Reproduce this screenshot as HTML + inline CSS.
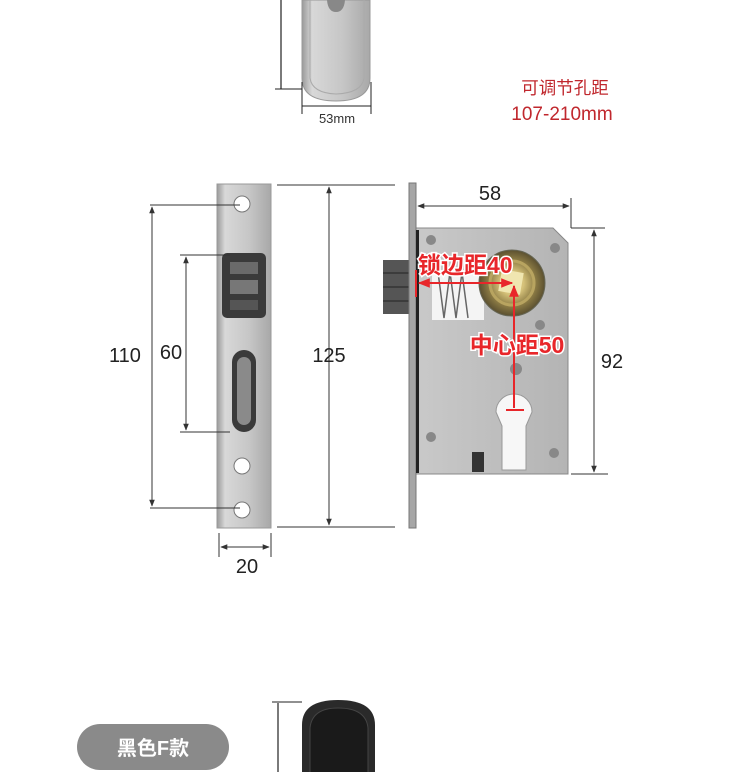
<!DOCTYPE html>
<html><head><meta charset="utf-8"><style>
html,body{margin:0;padding:0;background:#fff;}
svg{display:block}
text{font-family:"Liberation Sans","Noto Sans CJK SC",sans-serif;}
</style></head><body>
<svg width="750" height="772" viewBox="0 0 750 772" xmlns="http://www.w3.org/2000/svg">
<defs>
<linearGradient id="steel" x1="0" x2="1" y1="0" y2="0">
<stop offset="0" stop-color="#9a9a9a"/><stop offset="0.15" stop-color="#d8d8d8"/><stop offset="0.6" stop-color="#c6c6c6"/><stop offset="1" stop-color="#a8a8a8"/></linearGradient>
<linearGradient id="case" x1="0" x2="1"><stop offset="0" stop-color="#c9c9c9"/><stop offset="1" stop-color="#b4b4b4"/></linearGradient>
<radialGradient id="gold"><stop offset="0.35" stop-color="#d6c27a"/><stop offset="0.7" stop-color="#8e7d45"/><stop offset="1" stop-color="#5b5030"/></radialGradient>
<marker id="a" viewBox="0 0 10 10" refX="9" refY="5" markerWidth="7" markerHeight="7" orient="auto-start-reverse"><path d="M0,1 L10,5 L0,9z" fill="#333"/></marker>
<marker id="r" viewBox="0 0 10 10" refX="9" refY="5" markerWidth="6" markerHeight="6" orient="auto-start-reverse"><path d="M0,1 L10,5 L0,9z" fill="#e8262a"/></marker>
</defs>

<!-- top handle -->
<path d="M302,0 L370,0 L370,78 Q370,101 336,101 Q302,101 302,78 Z" fill="url(#steel)" stroke="#999"/>
<path d="M310,0 L310,78 Q312,93 336,94 Q362,93 364,78 L364,0" fill="none" stroke="#aaa"/>
<path d="M327,0 Q328,12 336,12 Q344,12 345,0" fill="#888"/>
<line x1="281" y1="0" x2="281" y2="89" stroke="#222" stroke-width="1.2"/>
<line x1="275" y1="89" x2="302" y2="89" stroke="#222"/>
<line x1="302" y1="82" x2="302" y2="114" stroke="#222"/>
<line x1="371" y1="82" x2="371" y2="114" stroke="#222"/>
<line x1="302" y1="106" x2="371" y2="106" stroke="#222"/>
<text x="337" y="123" font-size="13" text-anchor="middle" fill="#333">53mm</text>
<text x="565" y="94" font-size="17.5" text-anchor="middle" fill="#c0272d">可调节孔距</text>
<text x="562" y="120" font-size="19" text-anchor="middle" fill="#c0272d">107-210mm</text>

<!-- strike plate -->
<rect x="217" y="184" width="54" height="344" fill="url(#steel)" stroke="#999"/>
<circle cx="242" cy="204" r="8" fill="#fff" stroke="#777"/>
<circle cx="242" cy="466" r="8" fill="#fff" stroke="#777"/>
<circle cx="242" cy="510" r="8" fill="#fff" stroke="#777"/>
<rect x="222" y="253" width="44" height="65" rx="5" fill="#3a3a3a"/>
<rect x="230" y="262" width="28" height="12" fill="#6a6a6a"/>
<rect x="230" y="280" width="28" height="14" fill="#777"/>
<rect x="230" y="300" width="28" height="10" fill="#555"/>
<rect x="232" y="350" width="24" height="82" rx="12" fill="#3a3a3a"/>
<rect x="237" y="357" width="14" height="68" rx="7" fill="#8a8a8a"/>

<line x1="150" y1="205" x2="240" y2="205" stroke="#333"/>
<line x1="150" y1="508" x2="240" y2="508" stroke="#333"/>
<line x1="152" y1="207" x2="152" y2="506" stroke="#333" marker-start="url(#a)" marker-end="url(#a)"/>
<text x="125" y="362" font-size="20" text-anchor="middle" fill="#222">110</text>
<line x1="180" y1="255" x2="230" y2="255" stroke="#333"/>
<line x1="180" y1="432" x2="230" y2="432" stroke="#333"/>
<line x1="186" y1="257" x2="186" y2="430" stroke="#333" marker-start="url(#a)" marker-end="url(#a)"/>
<text x="171" y="359" font-size="20" text-anchor="middle" fill="#222">60</text>
<line x1="277" y1="185" x2="395" y2="185" stroke="#333"/>
<line x1="277" y1="527" x2="395" y2="527" stroke="#333"/>
<line x1="329" y1="187" x2="329" y2="525" stroke="#333" marker-start="url(#a)" marker-end="url(#a)"/>
<text x="329" y="362" font-size="20" text-anchor="middle" fill="#222">125</text>
<line x1="219" y1="533" x2="219" y2="557" stroke="#333"/>
<line x1="271" y1="533" x2="271" y2="557" stroke="#333"/>
<line x1="221" y1="547" x2="269" y2="547" stroke="#333" marker-start="url(#a)" marker-end="url(#a)"/>
<text x="247" y="573" font-size="20" text-anchor="middle" fill="#222">20</text>

<!-- lock body -->
<rect x="383" y="260" width="33" height="54" fill="#555"/>
<line x1="383" y1="273" x2="410" y2="273" stroke="#222"/>
<line x1="383" y1="287" x2="410" y2="287" stroke="#222"/>
<line x1="383" y1="301" x2="410" y2="301" stroke="#222"/>
<path d="M416,228 L553,228 L568,243 L568,474 L416,474 Z" fill="url(#case)" stroke="#888"/>
<rect x="409" y="183" width="7" height="345" fill="#a6a6a6" stroke="#777"/>
<rect x="416" y="230" width="3" height="243" fill="#222"/>
<rect x="432" y="270" width="52" height="50" fill="#f4f4f4"/>
<path d="M438,272 l6,46 l6,-46 l6,46 l6,-46 l6,46" fill="none" stroke="#666" stroke-width="1.5"/>
<circle cx="512" cy="283" r="33" fill="url(#gold)" stroke="#665"/>
<circle cx="512" cy="283" r="22" fill="none" stroke="#b8a460" stroke-width="3"/>
<rect x="500" y="271" width="22" height="22" fill="#f0e6b0" transform="rotate(10 511 282)"/>
<circle cx="431" cy="240" r="5" fill="#888"/><circle cx="555" cy="248" r="5" fill="#888"/>
<circle cx="540" cy="325" r="5" fill="#888"/><circle cx="516" cy="369" r="6" fill="#888"/>
<circle cx="431" cy="437" r="5" fill="#888"/><circle cx="554" cy="453" r="5" fill="#888"/>
<path d="M496,412 A18,18 0 1 1 532,412 L526,426 L526,470 L502,470 L502,426 Z" fill="#f7f7f7" stroke="#999"/>
<rect x="472" y="452" width="12" height="20" fill="#333"/>

<line x1="418" y1="206" x2="569" y2="206" stroke="#333" marker-start="url(#a)" marker-end="url(#a)"/>
<text x="490" y="200" font-size="20" text-anchor="middle" fill="#222">58</text>
<line x1="571" y1="198" x2="571" y2="228" stroke="#333"/>
<line x1="571" y1="228" x2="605" y2="228" stroke="#333"/>
<line x1="571" y1="474" x2="608" y2="474" stroke="#333"/>
<line x1="594" y1="230" x2="594" y2="472" stroke="#333" marker-start="url(#a)" marker-end="url(#a)"/>
<text x="612" y="368" font-size="20" text-anchor="middle" fill="#222">92</text>

<line x1="416" y1="270" x2="416" y2="297" stroke="#e8262a" stroke-width="2"/>
<line x1="419" y1="283" x2="512" y2="283" stroke="#e8262a" stroke-width="2" marker-start="url(#r)" marker-end="url(#r)"/>
<line x1="514" y1="286" x2="514" y2="408" stroke="#e8262a" stroke-width="2" marker-start="url(#r)"/>
<line x1="506" y1="410" x2="524" y2="410" stroke="#e8262a" stroke-width="2"/>
<text x="418" y="273" font-size="23" font-weight="bold" fill="#e8262a" stroke="#fff" stroke-width="3" paint-order="stroke">锁边距40</text>
<text x="517" y="353" font-size="23" font-weight="bold" text-anchor="middle" fill="#e8262a" stroke="#fff" stroke-width="3" paint-order="stroke">中心距50</text>

<!-- bottom -->
<rect x="77" y="724" width="152" height="46" rx="23" fill="#8a8a8a"/>
<text x="153" y="755" font-size="20" font-weight="bold" text-anchor="middle" fill="#fff">黑色F款</text>
<line x1="278" y1="703" x2="278" y2="772" stroke="#222" stroke-width="1.2"/>
<line x1="272" y1="702" x2="302" y2="702" stroke="#222"/>
<path d="M302,772 L302,725 Q302,700 338,700 Q375,700 375,725 L375,772 Z" fill="#2a2a2a"/>
<path d="M310,772 L310,728 Q312,708 338,708 Q366,708 368,728 L368,772" fill="#1a1a1a" stroke="#444"/>
</svg>
</body></html>
